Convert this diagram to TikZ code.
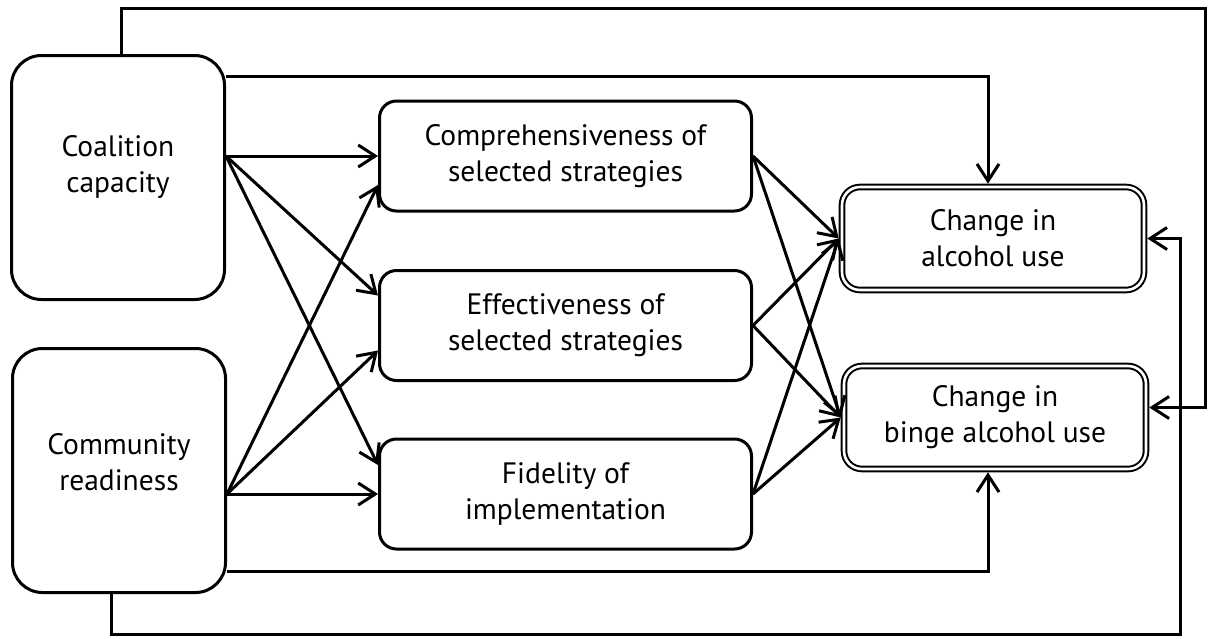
\documentclass[tikz,border=0pt]{standalone}
\usepackage{fontspec}
\setmainfont{PT Sans}
\usetikzlibrary{arrows.meta,calc}
\begin{document}
\begin{tikzpicture}[x=1pt,y=-1pt,
  bigbox/.style={draw,line width=3pt,rounded corners=30pt,minimum width=213pt,minimum height=244pt,inner sep=0pt},
  midbox/.style={draw,line width=3pt,rounded corners=17pt,minimum width=372pt,minimum height=110pt,align=center,inner sep=0pt},
  outbox/.style={draw,line width=2pt,double,double distance=2.6pt,rounded corners=18pt,minimum width=302pt,minimum height=103pt,align=center,outer sep=3.3pt,inner sep=0pt},
  txt/.style={align=center,font=\fontsize{29.5}{36}\selectfont},
  conn/.style={line width=3pt,-{Straight Barb[length=17pt,width=22pt,line width=3pt]}},
]
\useasboundingbox (0,0) rectangle (1210,638);

\node[bigbox] (cc) at (118,177.5) {};
\node[txt] (cct) at (118,167) {Coalition\\capacity};
\node[bigbox] (cr) at (119,470.5) {};
\node[txt] (crt) at (119,462) {Community\\readiness};
\node[midbox,txt] (comp) at (565.5,156) {Comprehensiveness of\\selected strategies};
\node[midbox,txt] (eff) at (565.5,325.5) {Effectiveness of\\selected strategies};
\node[midbox,txt] (fid) at (565.5,494) {Fidelity of\\implementation};
\node[outbox,txt] (alc) at (993,238.5) {Change in\\alcohol use};
\node[outbox,txt] (bin) at (995,417.5) {Change in\\binge alcohol use};

\coordinate (ccs) at (cc.east |- comp.west);
\coordinate (crs) at (cr.east |- fid.west);

\draw[conn] (ccs) -- (comp.west);
\draw[conn] (ccs) -- ($(eff.west)+(0,-30)$);
\draw[conn] (ccs) -- ($(fid.west)+(0,-29)$);
\draw[conn] (crs) -- ($(comp.west)+(0,29)$);
\draw[conn] (crs) -- ($(eff.west)+(0,25)$);
\draw[conn] (crs) -- (fid.west);

\foreach \m in {comp,eff,fid}{
  \draw[conn] (\m.east) -- (alc.west);
  \draw[conn] (\m.east) -- (bin.west);
}

\coordinate (tr) at (1205,8);
\coordinate (br) at (1180,634);
\draw[conn] ($(cc.north)+(3,0)$) |- (tr) |- ($(bin.east)+(0,-10)$);
\draw[conn] ($(cc.north east)+(0,22)$) -| ($(alc.north)+(-5,0)$);
\draw[conn] ($(cr.south east)+(0,-23)$) -| ($(bin.south)+(-7,0)$);
\draw[conn] ($(cr.south)+(-8,0)$) |- (br) |- (alc.east);
\end{tikzpicture}
\end{document}
